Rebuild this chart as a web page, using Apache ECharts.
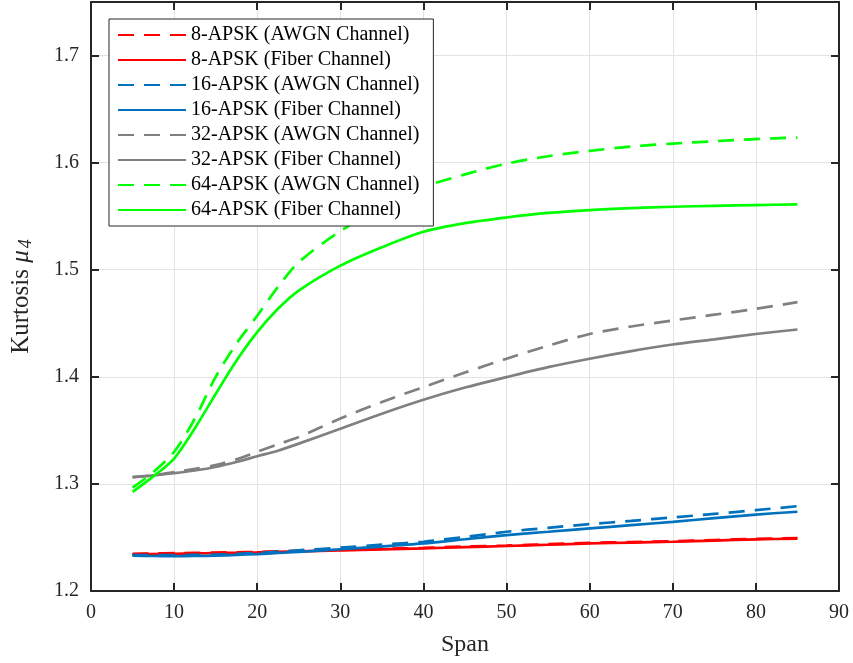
<!DOCTYPE html>
<html>
<head>
<meta charset="utf-8">
<script src="https://cdn.jsdelivr.net/npm/echarts@6/dist/echarts.min.js"></script>
<style>
html,body{margin:0;padding:0;background:#fff;}
#chart{width:853px;height:663px;}
</style>
</head>
<body>
<div id="chart"></div>
<script>
var spans = [5, 7.5, 10, 12.5, 15, 17.5, 20, 22.5, 25, 30, 35, 40, 45, 50, 55, 60, 65, 70, 75, 80, 85];

var apsk8Awgn   = [1.2347, 1.2350, 1.2353, 1.2356, 1.2359, 1.2362, 1.2365, 1.2370, 1.2375, 1.2383, 1.2393, 1.2403, 1.2415, 1.2425, 1.2437, 1.2449, 1.2457, 1.2465, 1.2476, 1.2487, 1.2495];
var apsk8Fiber  = [1.2342, 1.2345, 1.2348, 1.2351, 1.2354, 1.2357, 1.2360, 1.2365, 1.2370, 1.2378, 1.2388, 1.2398, 1.2410, 1.2420, 1.2432, 1.2444, 1.2452, 1.2460, 1.2471, 1.2482, 1.2490];
var apsk16Awgn  = [1.2335, 1.2335, 1.2335, 1.2337, 1.2340, 1.2347, 1.2355, 1.2367, 1.2380, 1.2405, 1.2433, 1.2460, 1.2505, 1.2553, 1.2590, 1.2624, 1.2655, 1.2687, 1.2720, 1.2755, 1.2792];
var apsk16Fiber = [1.2330, 1.2327, 1.2325, 1.2327, 1.2330, 1.2337, 1.2345, 1.2355, 1.2365, 1.2390, 1.2415, 1.2444, 1.2483, 1.2522, 1.2553, 1.2584, 1.2615, 1.2646, 1.2680, 1.2714, 1.2740];
var apsk32Awgn  = [1.3065, 1.3080, 1.3110, 1.3140, 1.3175, 1.3230, 1.3300, 1.3370, 1.3438, 1.3610, 1.3765, 1.3904, 1.4040, 1.4169, 1.4290, 1.4400, 1.4470, 1.4526, 1.4580, 1.4635, 1.4697];
var apsk32Fiber = [1.3060, 1.3080, 1.3100, 1.3125, 1.3158, 1.3205, 1.3258, 1.3310, 1.3376, 1.3516, 1.3656, 1.3786, 1.3900, 1.3997, 1.4090, 1.4169, 1.4240, 1.4302, 1.4350, 1.4400, 1.4442];
var apsk64Awgn  = [1.2966, 1.3110, 1.3300, 1.3610, 1.4000, 1.4310, 1.4570, 1.4840, 1.5070, 1.5360, 1.5580, 1.5770, 1.5890, 1.5990, 1.6060, 1.6110, 1.6150, 1.6178, 1.6200, 1.6220, 1.6234];
var apsk64Fiber = [1.2925, 1.3070, 1.3237, 1.3520, 1.3840, 1.4150, 1.4417, 1.4635, 1.4805, 1.5038, 1.5210, 1.5355, 1.5435, 1.5488, 1.5530, 1.5557, 1.5575, 1.5588, 1.5597, 1.5604, 1.5610];

var seriesNames = [
  '8-APSK (AWGN Channel)', '8-APSK (Fiber Channel)',
  '16-APSK (AWGN Channel)', '16-APSK (Fiber Channel)',
  '32-APSK (AWGN Channel)', '32-APSK (Fiber Channel)',
  '64-APSK (AWGN Channel)', '64-APSK (Fiber Channel)'
];
var seriesValues = [apsk8Awgn, apsk8Fiber, apsk16Awgn, apsk16Fiber, apsk32Awgn, apsk32Fiber, apsk64Awgn, apsk64Fiber];
var seriesColors = ['#FF0000', '#FF0000', '#0072BD', '#0072BD', '#808080', '#808080', '#00FF00', '#00FF00'];
var seriesDashed = [true, false, true, false, true, false, true, false];

var xTicks = {min: 0, max: 90, interval: 10};
var yTicks = {min: 1.2, max: 1.75, interval: 0.1};

var FONT = '"Liberation Serif", "Times New Roman", serif';
var AXC = '#262626';

var series = seriesNames.map(function (name, k) {
  return {
    name: name,
    type: 'line',
    xAxisIndex: 0,
    yAxisIndex: 0,
    data: spans.map(function (s, i) { return [s, seriesValues[k][i]]; }),
    showSymbol: false,
    symbol: 'none',
    smooth: 0.3,
    lineStyle: {
      color: seriesColors[k],
      width: 2.7,
      type: seriesDashed[k] ? [16, 10] : 'solid'
    },
    itemStyle: {color: seriesColors[k]},
    emphasis: {disabled: true},
    animation: false
  };
});

function frameAxis(pos, extra) {
  var a = {
    type: 'value',
    position: pos,
    axisLine: {show: true, onZero: false, lineStyle: {color: AXC, width: 2}},
    axisTick: {show: true, inside: true, length: 8, lineStyle: {color: AXC, width: 2}},
    axisLabel: {show: false},
    splitLine: {show: false}
  };
  for (var k in extra) a[k] = extra[k];
  return a;
}

var chart = echarts.init(document.getElementById('chart'), null, {renderer: 'canvas'});
chart.setOption({
  backgroundColor: '#ffffff',
  animation: false,
  grid: {left: 91, right: 14, top: 2, bottom: 72, containLabel: false},
  legend: {
    orient: 'vertical',
    left: 109,
    top: 19,
    padding: [6, 14, 6, 8],
    itemWidth: 68,
    itemHeight: 14,
    itemGap: 5,
    backgroundColor: '#ffffff',
    borderColor: AXC,
    borderWidth: 1,
    itemStyle: {color: 'rgba(0,0,0,0)', borderWidth: 0, opacity: 0},
    textStyle: {fontFamily: FONT, fontSize: 20, color: '#000', lineHeight: 20},
    data: seriesNames
  },
  xAxis: [
    frameAxis('bottom', {
      min: xTicks.min, max: xTicks.max, interval: xTicks.interval,
      name: 'Span',
      nameLocation: 'middle',
      nameGap: 42,
      nameTextStyle: {fontFamily: FONT, fontSize: 24, color: '#262626'},
      axisLabel: {fontFamily: FONT, fontSize: 20, color: '#262626', margin: 12},
      splitLine: {show: true, lineStyle: {color: '#e3e3e3', width: 1}}
    }),
    frameAxis('top', {min: xTicks.min, max: xTicks.max, interval: xTicks.interval})
  ],
  yAxis: [
    frameAxis('left', {
      min: yTicks.min, max: yTicks.max, interval: yTicks.interval,
      name: 'Kurtosis {i|μ}{s|4}',
      nameLocation: 'middle',
      nameGap: 56,
      nameRotate: 90,
      nameTextStyle: {
        fontFamily: FONT, fontSize: 25, color: '#262626',
        rich: {
          i: {fontFamily: FONT, fontSize: 25, fontStyle: 'italic', color: '#262626', padding: [0, 2, 0, 0]},
          s: {fontFamily: FONT, fontSize: 18, fontStyle: 'italic', color: '#262626', verticalAlign: 'bottom', padding: [10, 0, 0, 0]}
        }
      },
      axisLabel: {
        fontFamily: FONT, fontSize: 20, color: '#262626', margin: 12,
        showMaxLabel: false,
        formatter: function (v) { return v.toFixed(1); }
      },
      splitLine: {show: true, lineStyle: {color: '#e3e3e3', width: 1}}
    }),
    frameAxis('right', {min: yTicks.min, max: yTicks.max, interval: yTicks.interval})
  ],
  series: series
});
</script>
</body>
</html>
